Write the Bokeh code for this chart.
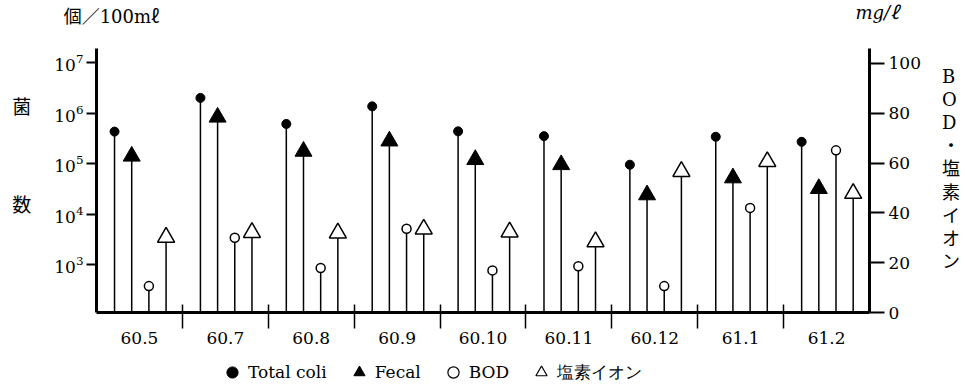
import numpy as np
from bokeh.plotting import figure
from bokeh.layouts import column
from bokeh.models import (Range1d, LinearAxis, LinearScale, FixedTicker, Legend, LegendItem)
from bokeh.embed import file_html
from bokeh.resources import INLINE

# ---- data ----
months = ["60.5", "60.7", "60.8", "60.9", "60.10", "60.11", "60.12", "61.1", "61.2"]
total_coli = [4.3e5, 2.0e6, 6.1e5, 1.36e6, 4.35e5, 3.5e5, 9.5e4, 3.4e5, 2.7e5]   # 個/100mℓ
fecal = [1.4e5, 8.3e5, 1.75e5, 2.8e5, 1.2e5, 9.5e4, 2.4e4, 5.2e4, 3.2e4]          # 個/100mℓ
bod = [10.6, 30.0, 17.9, 33.6, 16.9, 18.6, 10.6, 42.0, 65.1]                      # mg/ℓ
chloride = [30.2, 32.1, 31.9, 33.5, 32.3, 28.4, 56.6, 60.6, 47.8]                 # mg/ℓ
left_tick_exponents = [3, 4, 5, 6, 7]
right_ticks = [0, 20, 40, 60, 80, 100]
series_labels = ["Total coli", "Fecal", "BOD", "塩素イオン"]
unit_labels = ["個／100mℓ", "mg/ℓ\n\n"]
left_title = "菌\n\n\n\n数\n\n"
right_title = "B\nO\nD\n・\n塩\n素\nイ\nオ\nン\n"

SERIF = "DejaVu Serif, Noto Sans CJK JP"
LOG_LO, LOG_HI = 10 ** 2.05, 10 ** 7.28
R_LO, R_HI = 0, 106

n = len(months)
xc = np.arange(n) + 0.5
offsets = [-0.29, -0.09, 0.11, 0.31]
UNIT_X = (111 - 96) / 773 * n   # position of the left unit caption on the month axis

def bare(h, y0=0, y1=1, top_border=0):
    f = figure(width=965, height=h, x_range=Range1d(0, n), y_range=Range1d(y0, y1),
               output_backend="svg", toolbar_location=None,
               x_axis_location=None, y_axis_location=None,
               min_border_left=0, min_border_right=0, min_border_top=top_border, min_border_bottom=0)
    f.outline_line_color = None
    f.grid.visible = False
    return f

# ---- top strip: unit labels ----
top = bare(48, top_border=26)
ta = LinearAxis(ticker=FixedTicker(ticks=[UNIT_X]), axis_line_color=None,
                major_tick_out=0, major_tick_in=0, minor_tick_out=0, minor_tick_in=0,
                major_label_standoff=0)
ta.major_label_overrides = {UNIT_X: unit_labels[0]}
ta.major_label_text_font = SERIF
ta.major_label_text_font_size = "18px"
ta.major_label_text_color = "black"
top.add_layout(ta, "above")

tr = LinearAxis(ticker=FixedTicker(ticks=[]), axis_line_color=None,
                major_tick_out=0, major_tick_in=0, minor_tick_out=0, minor_tick_in=0,
                major_label_text_font_size="0px")
tr.axis_label = unit_labels[1]
tr.axis_label_orientation = "horizontal"
tr.axis_label_standoff = -14
tr.axis_label_text_font = SERIF
tr.axis_label_text_font_size = "18px"
tr.axis_label_text_font_style = "italic"
tr.axis_label_text_line_height = 1.2
tr.axis_label_text_color = "black"
top.add_layout(tr, "right")

# ---- main plot ----
p = figure(width=965, height=304, y_axis_type="log",
           x_range=Range1d(0, n), y_range=Range1d(LOG_LO, LOG_HI),
           output_backend="svg", toolbar_location=None,
           min_border_left=96, min_border_right=96, min_border_top=0, min_border_bottom=40)
p.outline_line_color = None
p.grid.visible = False

p.extra_y_ranges = {"r": Range1d(R_LO, R_HI)}
p.extra_y_scales = {"r": LinearScale()}

xa = p.xaxis[0]
xa.ticker = FixedTicker(ticks=list(xc), minor_ticks=list(range(1, n)))
xa.major_label_overrides = {float(x): m for x, m in zip(xc, months)}
xa.major_tick_out = 0
xa.major_tick_in = 0
xa.minor_tick_out = 16
xa.minor_tick_in = 8
xa.minor_tick_line_width = 1.5
xa.axis_line_width = 3
xa.major_label_standoff = 3
xa.major_label_text_font = SERIF
xa.major_label_text_font_size = "17px"
xa.major_label_text_color = "black"

ya = p.yaxis[0]
ya.ticker = FixedTicker(ticks=[10.0 ** e for e in left_tick_exponents])
ya.axis_line_width = 3
ya.major_tick_out = 10
ya.major_tick_in = 0
ya.major_tick_line_width = 2
ya.minor_tick_out = 0
ya.minor_tick_in = 0
ya.major_label_standoff = 3
ya.major_label_text_font = SERIF
ya.major_label_text_font_size = "17px"
ya.major_label_text_color = "black"
ya.axis_label = left_title
ya.axis_label_orientation = "horizontal"
ya.axis_label_standoff = 20
ya.axis_label_text_font = SERIF
ya.axis_label_text_font_size = "19px"
ya.axis_label_text_font_style = "normal"
ya.axis_label_text_line_height = 1.12
ya.axis_label_text_color = "black"

ra = LinearAxis(y_range_name="r", ticker=FixedTicker(ticks=right_ticks))
ra.axis_line_width = 3
ra.major_tick_out = 15
ra.major_tick_in = 0
ra.major_tick_line_width = 2
ra.minor_tick_out = 0
ra.minor_tick_in = 0
ra.major_label_standoff = 4
ra.major_label_text_font = SERIF
ra.major_label_text_font_size = "17px"
ra.major_label_text_color = "black"
ra.axis_label = right_title
ra.axis_label_orientation = "horizontal"
ra.axis_label_standoff = 18
ra.axis_label_text_font = SERIF
ra.axis_label_text_font_size = "18px"
ra.axis_label_text_font_style = "normal"
ra.axis_label_text_line_height = 1.10
ra.axis_label_text_color = "black"
p.add_layout(ra, "right")

x1 = xc + offsets[0]
x2 = xc + offsets[1]
x3 = xc + offsets[2]
x4 = xc + offsets[3]

p.segment(x1, LOG_LO, x1, total_coli, line_color="black", line_width=1.5)
p.scatter(x1, total_coli, marker="circle", size=9, fill_color="black", line_color="black")

p.segment(x2, LOG_LO, x2, fecal, line_color="black", line_width=1.5)
p.scatter(x2, fecal, marker="triangle", size=17, fill_color="black", line_color="black")

p.segment(x3, R_LO, x3, bod, line_color="black", line_width=1.5, y_range_name="r")
p.scatter(x3, bod, marker="circle", size=9, fill_color="white", line_color="black",
          line_width=1.5, y_range_name="r")

p.segment(x4, R_LO, x4, chloride, line_color="black", line_width=1.5, y_range_name="r")
p.scatter(x4, chloride, marker="triangle", size=17, fill_color="white", line_color="black",
          line_width=1.5, y_range_name="r")

# ---- bottom strip: legend (proxy renderers lie outside this strip's visible range) ----
leg = bare(40, -10, -5)
proxies = [
    leg.scatter(x1, total_coli, marker="circle", fill_color="black", line_color="black"),
    leg.scatter(x2, fecal, marker="triangle", fill_color="black", line_color="black"),
    leg.scatter(x3, bod, marker="circle", fill_color="white", line_color="black", line_width=1.2),
    leg.scatter(x4, chloride, marker="triangle", fill_color="white", line_color="black", line_width=1.2),
]
legend = Legend(items=[LegendItem(label=lab, renderers=[r]) for lab, r in zip(series_labels, proxies)],
                orientation="horizontal", location=(122, 6),
                border_line_color=None, background_fill_alpha=0,
                label_text_font="DejaVu Serif", label_text_font_size="17px", label_text_color="black",
                glyph_width=28, glyph_height=28, spacing=18, label_standoff=2,
                padding=0, margin=0)
leg.add_layout(legend, "center")

layout = column(top, p, leg, spacing=0)
open("out.html", "w").write(file_html(layout, INLINE))
